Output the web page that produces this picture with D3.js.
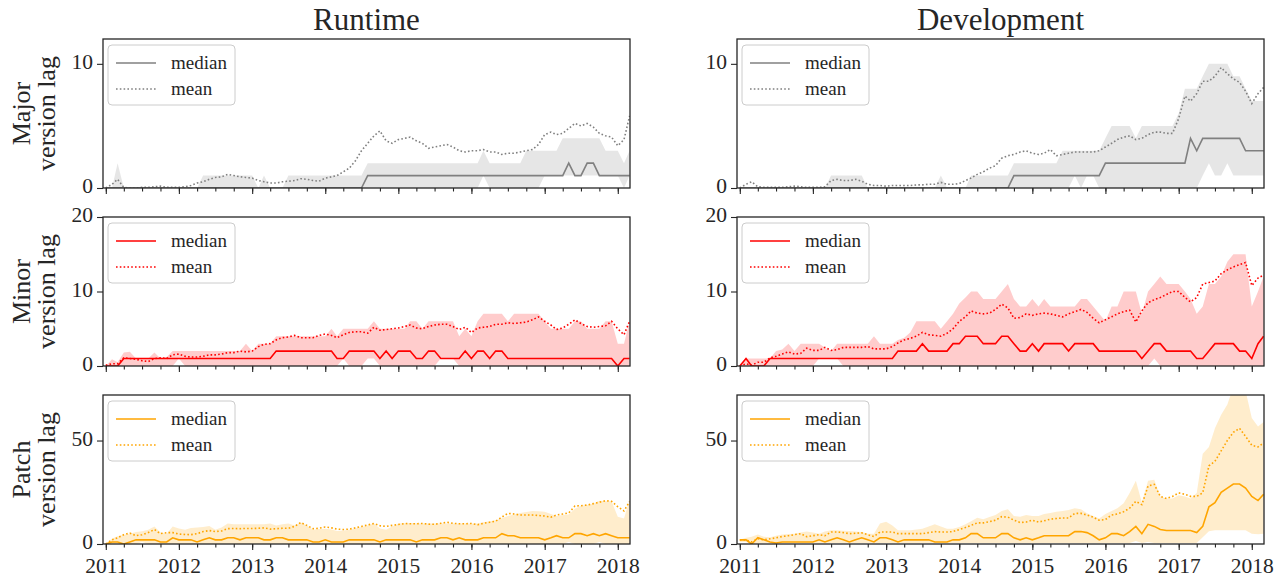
<!DOCTYPE html>
<html>
<head>
<meta charset="utf-8">
<script src="https://cdn.jsdelivr.net/npm/d3@7"></script>
<style>
  body { margin: 0; background: #fff; }
  svg text { font-family: "Liberation Serif", "DejaVu Serif", serif; fill: #262626; }
</style>
</head>
<body>
<svg id="chart" width="1287" height="578"></svg>
<script>
// monthly values, Jan 2011 .. Mar 2018 (one line per year)

// Runtime / Major
const runtimeMajorMedian = [
  0,0,0,0,0,0,0,0,0,0,0,0,
  0,0,0,0,0,0,0,0,0,0,0,0,
  0,0,0,0,0,0,0,0,0,0,0,0,
  0,0,0,0,0,0,0,1,1,1,1,1,
  1,1,1,1,1,1,1,1,1,1,1,1,
  1,1,1,1,1,1,1,1,1,1,1,1,
  1,1,1,1,2,1,1,2,2,1,1,1,
  1,1,1];
const runtimeMajorMean = [
  0,0.3,0.7,0.05,0,0,0.05,0.05,0.1,0.15,0.05,0.05,
  0.05,0.1,0.2,0.4,0.5,0.7,0.85,0.9,1.1,1.0,0.9,0.85,
  0.8,0.6,0.5,0.4,0.4,0.5,0.55,0.6,0.75,0.7,0.6,0.55,
  0.8,0.9,1.0,1.3,1.6,2.2,3.0,3.6,4.2,4.6,3.8,3.6,
  3.9,4.0,4.1,3.8,3.6,3.2,3.3,3.4,3.5,3.3,3.0,2.9,
  3.0,3.0,3.1,2.9,2.9,2.7,2.8,2.8,2.9,3.0,3.1,3.5,
  4.3,4.5,4.3,4.4,4.8,5.2,5.0,5.2,4.9,4.4,4.2,4.1,
  3.4,3.9,5.8];
const runtimeMajorLow = [
  0,0,0,0,0,0,0,0,0,0,0,0,
  0,0,0,0,0,0,0,0,0,0,0,0,
  0,0,0,0,0,0,0,0,0,0,0,0,
  0,0,0,0,0,0,0,0,0,0,0,0,
  0,0,0,0,0,0,0,0,0,0,0,0,
  0,0,1,0,0,0,0,0,0,0,0,0,
  1,1,1,1,1,1,1,1,1,1,1,1,
  1,0,1];
const runtimeMajorHigh = [
  0,0,2,0,0,0,0,0,0,0,0,0,
  0,0,0,0,1,1,1,1,1,1,1,1,
  1,0,1,0,0,0,1,1,1,1,1,1,
  1,1,1,1,1,1,1,2,2,2,2,2,
  2,2,2,2,2,2,2,2,2,2,2,2,
  2,2,3,2,2,2,2,2,2,3,3,3,
  3,3,3,4,4,4,4,4,4,4,3,3,
  3,2,3];

// Development / Major
const devMajorMedian = [
  0,0,0,0,0,0,0,0,0,0,0,0,
  0,0,0,0,0,0,0,0,0,0,0,0,
  0,0,0,0,0,0,0,0,0,0,0,0,
  0,0,0,0,0,0,0,0,0,1,1,1,
  1,1,1,1,1,1,1,1,1,1,1,1,
  2,2,2,2,2,2,2,2,2,2,2,2,
  2,2,4,3,4,4,4,4,4,4,4,3,
  3,3,3];
const devMajorMean = [
  0,0.3,0.5,0.1,0.05,0.05,0.05,0.05,0.1,0.15,0.1,0.05,
  0.05,0.05,0.1,0.6,0.7,0.6,0.6,0.7,0.55,0.3,0.2,0.2,
  0.15,0.2,0.2,0.2,0.2,0.25,0.25,0.3,0.3,0.45,0.3,0.3,
  0.35,0.6,0.8,1.1,1.3,1.6,1.8,2.4,2.6,2.7,2.9,3.0,
  2.8,2.7,2.8,3.1,2.6,2.7,2.8,2.9,2.9,2.9,2.9,3.0,
  3.3,3.6,3.9,4.1,4.2,3.9,4.0,4.3,4.5,4.5,4.4,4.4,
  5.6,7.4,7.0,7.6,8.6,8.6,9.0,9.7,9.2,8.8,8.5,7.8,
  6.8,7.6,8.1];
const devMajorLow = [
  0,0,0,0,0,0,0,0,0,0,0,0,
  0,0,0,0,0,0,0,0,0,0,0,0,
  0,0,0,0,0,0,0,0,0,0,0,0,
  0,0,0,0,0,0,0,0,0,0,0,0,
  0,0,0,0,0,0,0,1,0,1,1,0,
  0,0,0,0,0,0,0,0,0,0,0,0,
  0,0,0,0,1,2,1,1,2,1,1,1,
  1,1,1];
const devMajorHigh = [
  0,0,0,0,0,0,0,0,0,0,0,0,
  0,0,0,1,1,1,1,1,1,0,0,0,
  0,0,0,0,0,0,0,0,0,1,0,0,
  0,0,1,1,1,1,1,1,1,2,2,2,
  2,2,2,2,2,3,3,3,3,3,3,3,
  4,5,5,5,5,4,5,5,5,5,5,5,
  6,8,8,8,9,10,10,10,10,9,9,8,
  7,7,7];

// Runtime / Minor
const runtimeMinorMedian = [
  0,0,0,1,1,1,1,1,1,1,1,1,
  1,1,1,1,1,1,1,1,1,1,1,1,
  1,1,1,1,2,2,2,2,2,2,2,2,
  2,2,1,1,2,2,2,2,2,1,2,1,
  2,2,2,1,1,2,2,1,1,1,1,2,
  1,2,2,1,2,2,1,1,1,1,1,1,
  1,1,1,1,1,1,1,1,1,1,1,1,
  0,1,1];
const runtimeMinorMean = [
  0.1,0.3,0.3,1.1,1.0,0.9,0.7,0.6,1.0,1.1,1.0,1.5,
  1.6,1.3,1.2,1.2,1.3,1.5,1.5,1.6,1.8,1.8,2.0,1.9,
  2.0,2.6,2.9,3.0,3.5,3.8,3.9,4.1,3.8,3.8,3.8,4.1,
  4.3,4.1,3.8,4.2,4.5,4.6,4.6,4.4,5.2,4.8,4.9,5.0,
  5.1,5.3,5.5,5.1,5.0,5.3,5.5,5.6,5.6,5.3,4.9,5.2,
  4.5,5.1,5.2,5.3,5.6,5.6,5.8,5.7,5.8,5.9,6.2,6.6,
  6.0,5.5,4.9,5.1,5.6,6.2,5.7,5.3,5.2,5.3,5.4,6.0,
  5.0,4.2,6.0];
const runtimeMinorLow = [
  0,0,0,0,0,0,0,0,0,0,0,0,
  1,0,0,0,0,0,0,0,0,0,0,0,
  0,0,0,0,0,0,0,0,0,0,0,0,
  0,0,0,1,0,0,0,1,1,0,0,0,
  0,0,0,0,0,0,0,1,1,1,0,0,
  0,0,0,0,0,0,0,0,0,0,0,0,
  0,0,0,0,0,0,0,0,0,0,0,0,
  0,0,0];
const runtimeMinorHigh = [
  0,0.9,0.5,1.8,1.9,1,1,1,1.8,1,1.2,2,
  2,2,2,2,2,2,2,2,2,2,2,3,
  2,3,3,3,4,4,4,4,4,4,4,4,
  4,5,4,5,5,5,5,5,6,5,5,5,
  5,5,6,6,5,6,6,6,6,6,4,5,
  4,6,7,7,7,7,6,7,7,7,7,7,
  6,5,5,5,5,6,6,5,5,5,6,6,
  3,3,6];

// Development / Minor
const devMinorMedian = [
  0,1,0,0,0,1,1,1,1,1,1,1,
  1,1,1,1,1,1,1,1,1,1,1,1,
  1,1,2,2,2,2,3,2,2,2,2,3,
  3,4,4,4,3,3,3,4,4,3,2,2,
  3,2,3,3,3,3,2,3,3,3,3,2,
  2,2,2,2,2,2,1,2,3,3,2,2,
  2,2,2,1,1,2,3,3,3,3,2,2,
  1,3,4];
const devMinorMean = [
  0,0.3,0.1,0.5,0.5,1.1,1.3,1.6,1.9,1.6,1.7,2.4,
  2.1,2.1,2.5,2.1,2.2,2.5,2.5,2.5,2.5,2.6,2.3,2.3,
  2.3,2.6,3.1,3.5,3.7,4.0,4.5,4.2,4.1,4.0,4.4,5.0,
  6.0,6.6,7.4,7.1,7.0,7.1,7.6,8.3,7.8,6.4,6.5,7.0,
  6.8,7.0,7.1,7.0,6.8,6.6,7.0,7.3,7.6,7.2,6.4,5.8,
  6.2,6.6,7.0,7.3,7.5,5.9,7.4,8.5,8.9,9.2,9.6,10.0,
  10.0,9.2,8.6,9.2,11.0,11.2,11.4,12.4,12.9,13.3,13.6,13.9,
  10.8,11.8,12.2];
const devMinorLow = [
  0,0,0,0,0,0,0,0,0,0,0,0,
  0,1,1,1,1,0,0,0,0,0,0,0,
  0,0,0,0,0,0,0,0,0,0,0,0,
  0,0,0,0,0,0,0,0,0,0,0,0,
  0,0,0,0,0,0,0,0,0,0,0,0,
  0,0,0,0,0,0,0,0,1,0,0,0,
  0,0,0,0,0,0,0,0,0,0,0,0,
  0,0,0];
const devMinorHigh = [
  0,1,1,1,1,1,2,2.2,3,2,3,3,
  3,3,2.5,2,3,3,3,3,3,3,4,3,
  3,3,3.5,3.8,4.5,6,6,6,6,5,6,7,
  8.4,9.2,10,10,9,9,9,10,11,9,8,8,
  9,8,9,8,8,8,8,8,9,9,8,7,
  6,8,8,10,10,10,7,10,11,12,11,11,
  11,10,9,7,8,11,11,12,14,15,15,15,
  8,10,12];

// Runtime / Patch
const runtimePatchMedian = [
  0,1,1,0,1,2,2,2,2,1,1,3,
  2,2,2,1,2,3,2,2,3,3,2,3,
  3,3,2,2,3,3,2,2,2,2,1,1,
  2,1,1,1,2,2,2,2,2,1,2,2,
  2,2,2,1,2,2,2,3,3,2,3,2,
  2,2,3,3,3,5,4,4,3,3,3,3,
  2,3,4,3,3,5,5,4,5,4,5,4,
  3,3,3];
const runtimePatchMean = [
  0,2,3,4.5,5.3,4,4.5,5.5,7,5,5.5,5.5,
  4.8,4.6,4.5,5,6,6.5,6,6.3,7.4,7.5,7.4,7.5,
  7.5,7.6,7.8,7.2,7.4,7.6,7.6,8.5,10.4,9,7.4,7.6,
  8.2,7.8,7.2,7,7.2,7.8,8.5,9.2,9.9,8.8,8.5,9,
  9.4,9.9,9.8,9.8,9.9,9.6,9.5,10,10.5,10,9.8,9.8,
  9.9,9.3,10,10.5,11,13,14.8,14.5,14,14,14,13.8,
  13.5,13,14,14.5,15,18.4,18.5,18.8,19.5,20.2,20.9,20.6,
  18,16,20.5];
const runtimePatchLow = [
  0,0,0,0,0,0,1,0,0,0,0,0,
  0,0,0,0,0,0,0,0,0,0,0,0,
  0,0,0,0,0,0,0,0,0,0,0,0,
  0,0,0,0,0,0,0,0,0,0,0,0,
  0,0,0,0,0,0,0,0,0,0,0,0,
  0,0,0,0,0,0,0,0,0,0,0,0,
  0,0,0,0,1,0,0,0,0,1,0,0,
  0,0,0];
const runtimePatchHigh = [
  0,2.5,3.8,4.5,5,5.8,6.2,6.9,8.5,5.5,5,8.5,
  7.5,6.9,7.7,8,8.2,8.7,6.9,8,9.9,9.5,9.5,9.5,
  9.5,9.5,9.5,9.9,9,9.5,9.9,9,10.4,9,6.9,7.2,
  7.4,7,6.3,6.5,6.9,7.5,8.2,9,9.9,7.5,6.9,8.5,
  9.9,10,10.2,10,9.9,9.9,9.9,9.9,9.9,9.9,9.9,9.9,
  9.9,9.9,10.5,11,11.5,12.5,13.5,14.3,15,15.5,16,15.8,
  15.6,14.5,13.5,14,14.3,17,18.5,18.9,19.5,20.9,20.6,20.6,
  13.2,12.3,21.4];

// Development / Patch
const devPatchMedian = [
  2,2,0,3,2,1,0.5,1,1,1,1,1,
  1,2,1,2,3,2,1,2,3,2,1,3,
  3,2,1,2,2,2,2,2,1,1,1,2,
  2,3,5,5,3,3,3,5,5,3,2,3,
  2,3,4,4,4,4,4,6,6,5.5,4,2,
  3,5,5,4,6,8.5,5,9.5,8.5,7,6.5,6.5,
  6.5,6.5,6.5,5.5,8.5,18,20,25,27,29,29,27,
  23,21,24];
const devPatchMean = [
  2,2,1,2.5,2,2.5,3,3.6,4,4.5,5,3.5,
  4,4.5,4,5.8,5.8,5.5,5,5.2,5.4,4.5,3.6,5.8,
  5.8,5.8,5,5,5,5,5,5.5,6,5.8,5.8,6,
  7,8,9,10.2,10.2,10.8,11.5,13.2,13,11.5,10.4,10.6,
  11.5,10.6,11.2,12,12.3,12.6,12.6,14.8,14.8,14,13,11.5,
  11.8,14,14.5,15.6,17.3,20.6,19,28,28.8,23,22,23,
  24.7,24,23,23,24.7,37.8,40,45,50,54,55.9,52,
  47.7,46.9,48.8];
const devPatchLow = [
  1,1,0,0.3,0.5,0.5,0.5,0.5,0.5,0.5,0.5,0.5,
  0.5,0.5,0.5,0.5,0.5,0.5,0.5,0.5,0.5,0.5,0.5,0.5,
  0.5,0.5,0.5,0.5,0.5,0.5,0.5,0.5,0.5,0.5,0.5,0.5,
  0.5,0.5,0.5,0.5,0.5,0.5,0.5,0.5,0.5,0.5,0.5,0.5,
  0.5,0.5,0.5,0.5,0.5,0.5,0.5,0.5,0.5,0.5,0.5,0.5,
  0.5,0.5,0.5,0.5,0.5,1.5,0.5,1,0.5,0.5,0.5,0.5,
  0.5,0.5,0.5,0.5,3.3,6.2,6.6,6.6,6.6,6.6,6.6,6.6,
  5,4.7,5];
const devPatchHigh = [
  2,3,3.5,4.6,3.5,3.3,4,4.6,4.8,5,5.5,6,
  5.5,5,6,6.6,6.6,6.4,6.3,6,5.8,5,5,9.9,
  10.7,9,6.6,6.6,6.6,7,7.4,8.5,9.5,8.5,7.4,7.4,
  8.2,9.5,11,12.7,12,13,14,16,16.8,13.5,13.2,14,
  13.5,13.5,14.5,15,15.6,16,16.4,17.3,16.8,14.8,13.5,12.3,
  14.5,16,17.3,19.7,24.7,30.6,20,30.6,31,23,22,22,
  23.5,23,22,24.7,43.6,46.9,55.9,62.5,67.4,76,80,74,
  60.9,56.8,58.9];

const colTitles = ["Runtime", "Development"];
const rowLabels = [["Major", "version lag"], ["Minor", "version lag"], ["Patch", "version lag"]];
const rowDomains = [[0, 12], [0, 20], [0, 72]];
const rowTicks = [[0, 10], [0, 10, 20], [0, 50]];
const legendLabels = ["median", "mean"];

const months = d3.timeMonth.range(new Date(2011, 0, 1), new Date(2018, 2, 2));

const panels = [
  {row: 0, col: 0, median: runtimeMajorMedian, mean: runtimeMajorMean, low: runtimeMajorLow, high: runtimeMajorHigh, color: "#808080"},
  {row: 0, col: 1, median: devMajorMedian, mean: devMajorMean, low: devMajorLow, high: devMajorHigh, color: "#808080"},
  {row: 1, col: 0, median: runtimeMinorMedian, mean: runtimeMinorMean, low: runtimeMinorLow, high: runtimeMinorHigh, color: "#ff0000"},
  {row: 1, col: 1, median: devMinorMedian, mean: devMinorMean, low: devMinorLow, high: devMinorHigh, color: "#ff0000"},
  {row: 2, col: 0, median: runtimePatchMedian, mean: runtimePatchMean, low: runtimePatchLow, high: runtimePatchHigh, color: "#ffa500"},
  {row: 2, col: 1, median: devPatchMedian, mean: devPatchMean, low: devPatchLow, high: devPatchHigh, color: "#ffa500"}
];

// layout
const colX = [103, 737], panelW = 527;
const rowY = [39, 217, 395], panelH = 149;
const ink = "#262626";

const svg = d3.select("#chart");

// column titles
colTitles.forEach(function(t, c) {
  svg.append("text")
    .attr("x", colX[c] + panelW / 2)
    .attr("y", 30)
    .attr("text-anchor", "middle")
    .style("font-size", "31px")
    .text(t);
});

// row labels (two lines, rotated)
rowLabels.forEach(function(lines, r) {
  let cy = rowY[r] + panelH / 2;
  lines.forEach(function(line, k) {
    svg.append("text")
      .attr("transform", "translate(" + (30 + k * 25) + "," + cy + ") rotate(-90)")
      .attr("text-anchor", "middle")
      .style("font-size", "26px")
      .text(line);
  });
});

panels.forEach(function(p, i) {
  let g = svg.append("g")
    .attr("transform", "translate(" + colX[p.col] + "," + rowY[p.row] + ")");

  let x = d3.scaleTime()
    .domain([new Date(2010, 11, 18), new Date(2018, 2, 3)])
    .range([0, panelW]);
  let y = d3.scaleLinear().domain(rowDomains[p.row]).range([panelH, 0]);

  g.append("clipPath").attr("id", "clip" + i)
    .append("rect").attr("width", panelW).attr("height", panelH);

  let plot = g.append("g").attr("clip-path", "url(#clip" + i + ")");

  // spread band
  let band = d3.area()
    .x(function(d, j) { return x(months[j]); })
    .y0(function(d, j) { return y(p.low[j]); })
    .y1(function(d) { return y(d); });
  plot.append("path")
    .datum(p.high)
    .attr("d", band)
    .attr("fill", p.color)
    .attr("fill-opacity", 0.2);

  let line = d3.line()
    .x(function(d, j) { return x(months[j]); })
    .y(function(d) { return y(d); });

  plot.append("path")
    .datum(p.mean)
    .attr("d", line)
    .attr("fill", "none")
    .attr("stroke", p.color)
    .attr("stroke-width", 1.6)
    .attr("stroke-dasharray", "1.6,2.2");

  plot.append("path")
    .datum(p.median)
    .attr("d", line)
    .attr("fill", "none")
    .attr("stroke", p.color)
    .attr("stroke-width", 1.6);

  // axes
  let xMinor = d3.axisBottom(x).ticks(d3.timeMonth.every(3)).tickSize(3.5).tickFormat("");
  let xMajor = d3.axisBottom(x).ticks(d3.timeYear.every(1)).tickSize(6).tickPadding(8)
    .tickFormat(p.row === 2 ? d3.timeFormat("%Y") : "");
  let yAxis = d3.axisLeft(y).tickValues(rowTicks[p.row]).tickSize(6).tickPadding(4);

  let gxm = g.append("g").attr("transform", "translate(0," + panelH + ")").call(xMinor);
  let gx = g.append("g").attr("transform", "translate(0," + panelH + ")").call(xMajor);
  let gy = g.append("g").call(yAxis);

  [gxm, gx, gy].forEach(function(a) {
    a.select(".domain").remove();
    a.selectAll(".tick line").attr("stroke", ink).attr("stroke-width", 1.1);
    a.selectAll(".tick text")
      .style("font-family", "'Liberation Serif', serif")
      .style("font-size", "21.5px")
      .attr("fill", ink);
  });
  gy.selectAll(".tick text").attr("dy", "0.22em");

  // frame
  g.append("rect")
    .attr("width", panelW).attr("height", panelH)
    .attr("fill", "none").attr("stroke", ink).attr("stroke-width", 1.3);

  // legend
  let lg = g.append("g").attr("transform", "translate(5,6)");
  lg.append("rect")
    .attr("width", 127).attr("height", 60).attr("rx", 4)
    .attr("fill", "#fff").attr("fill-opacity", 0.8)
    .attr("stroke", "#cccccc").attr("stroke-width", 1);
  legendLabels.forEach(function(lab, k) {
    let ly = 18 + k * 26;
    lg.append("line")
      .attr("x1", 8).attr("x2", 48).attr("y1", ly).attr("y2", ly)
      .attr("stroke", p.color).attr("stroke-width", 1.6)
      .attr("stroke-dasharray", k === 1 ? "1.6,2.2" : null);
    lg.append("text")
      .attr("x", 63).attr("y", ly).attr("dy", "0.32em")
      .style("font-size", "19px")
      .text(lab);
  });
});
</script>
</body>
</html>
